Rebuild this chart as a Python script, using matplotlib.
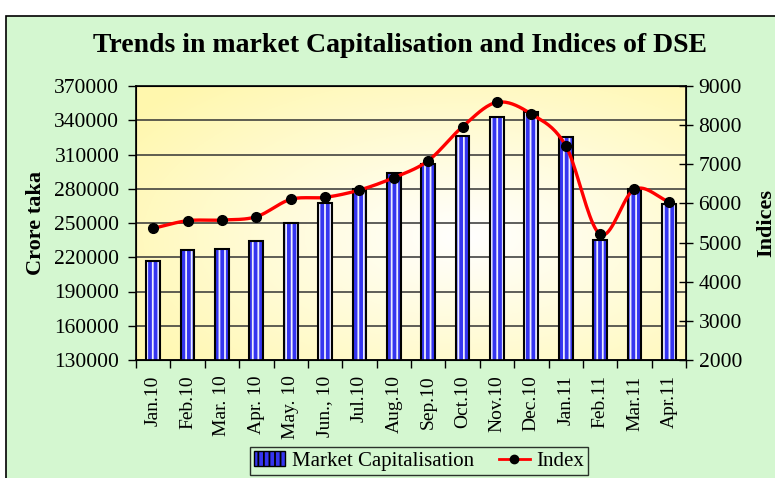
import numpy as np
import matplotlib
matplotlib.use("Agg")
import matplotlib.pyplot as plt
from matplotlib.patches import Rectangle
from matplotlib.lines import Line2D
from matplotlib.patches import Patch

months = ["Jan.10", "Feb.10", "Mar. 10", "Apr. 10", "May. 10", "Jun., 10", "Jul.10", "Aug.10",
          "Sep.10", "Oct.10", "Nov.10", "Dec.10", "Jan.11", "Feb.11", "Mar.11", "Apr.11"]
market_cap = [217000, 226300, 227500, 234500, 249800, 267200, 279500, 293500,
              301700, 326200, 342600, 346900, 325600, 234800, 279500, 266900]
index_vals = [5364, 5559, 5576, 5661, 6104, 6155, 6343, 6658,
              7092, 7961, 8583, 8285, 7475, 5210, 6360, 6044]

plt.rcParams['font.family'] = ['Liberation Serif', 'DejaVu Serif']

fig = plt.figure(figsize=(7.75, 4.78), dpi=100)
fig.patch.set_facecolor('white')
fig.patches.append(Rectangle((6/775, -0.01), 1.0, 1 - 16/478 + 0.01, transform=fig.transFigure,
                             facecolor='#d4f7d0', edgecolor='black', linewidth=1.2, zorder=0))

ax = fig.add_axes([136/775, 1 - 360/478, 550/775, 274/478])
ax.set_zorder(1)

# gradient background
yy, xx = np.mgrid[0:1:200j, 0:1:300j]
d = np.sqrt(((xx - 0.6) / 0.75) ** 2 + ((yy - 0.45) / 0.75) ** 2)
d = np.clip(d, 0, 1)
c0 = np.array([1.0, 1.0, 1.0])
c1 = np.array([1.0, 0.97, 0.68])
img = c0[None, None, :] * (1 - d[..., None]) + c1[None, None, :] * d[..., None]
ax.imshow(img, extent=[0, 1, 0, 1], transform=ax.transAxes, aspect='auto', zorder=0, origin='lower')

x = np.arange(len(months))
ax.set_xlim(-0.5, len(months) - 0.5)
ax.set_yticks(np.arange(130000, 370001, 30000))
ax.yaxis.grid(True, color='#333333', linewidth=1.1, zorder=1)
ax.set_axisbelow(True)

plt.rcParams['hatch.linewidth'] = 1.3
ax.bar(x, market_cap, width=0.4, color='#3535f0', edgecolor='#ececff', hatch='|||',
       linewidth=0, zorder=2)
ax.bar(x, market_cap, width=0.4, fill=False, edgecolor='black', linewidth=1.5, zorder=3)
ax.set_ylim(130000, 370000)

ax.set_xticks(x)
ax.set_xticklabels(months, rotation=90, fontsize=14)
ax.set_xticks(np.arange(-0.5, len(months), 1), minor=True)
ax.tick_params(axis='x', which='major', length=0, pad=11)
ax.tick_params(axis='x', which='minor', length=6, width=1, direction='out')
ax.tick_params(axis='y', labelsize=15.5, length=6, width=1, direction='out', pad=6)
for s in ax.spines.values():
    s.set_linewidth(1.2)
ax.set_ylabel('Crore taka', fontsize=16, fontweight='bold', labelpad=6)

ax2 = ax.twinx()
ax2.set_ylim(2000, 9000)
ax2.set_yticks(np.arange(2000, 9001, 1000))
ax2.tick_params(axis='y', labelsize=15.5, length=10, width=1, direction='inout', pad=4)
ax2.set_ylabel('Indices', fontsize=16, fontweight='bold', labelpad=10)

# smooth (Catmull-Rom) rendering of the index line
def catmull(xs, ys, n=20):
    xs = np.asarray(xs, float); ys = np.asarray(ys, float)
    px = np.concatenate([[2 * xs[0] - xs[1]], xs, [2 * xs[-1] - xs[-2]]])
    py = np.concatenate([[2 * ys[0] - ys[1]], ys, [2 * ys[-1] - ys[-2]]])
    ox, oy = [], []
    t = np.linspace(0, 1, n, endpoint=False)
    for i in range(1, len(px) - 2):
        for arr, out in ((px, ox), (py, oy)):
            p0, p1, p2, p3 = arr[i - 1], arr[i], arr[i + 1], arr[i + 2]
            out.extend(0.5 * ((2 * p1) + (-p0 + p2) * t + (2 * p0 - 5 * p1 + 4 * p2 - p3) * t ** 2
                              + (-p0 + 3 * p1 - 3 * p2 + p3) * t ** 3))
    ox.append(xs[-1]); oy.append(ys[-1])
    return np.array(ox), np.array(oy)

sx, sy = catmull(x, index_vals)
ax2.plot(sx, sy, color='#ff0000', linewidth=2.4, zorder=4)
ax2.plot(x, index_vals, 'o', color='black', markersize=7, zorder=5)

fig.text(400/775, 1 - 45/478, 'Trends in market Capitalisation and Indices of DSE',
         ha='center', va='center', fontsize=20, fontweight='bold')

handles = [Patch(facecolor='#3535f0', edgecolor='black', hatch='|||', linewidth=1),
           Line2D([0], [0], color='#ff0000', linewidth=2, marker='o', markersize=6,
                  markerfacecolor='black', markeredgecolor='black')]
leg = fig.legend(handles, ['Market Capitalisation', 'Index'], loc='center',
                 bbox_to_anchor=(419/775, 1 - 461/478), ncol=2, fontsize=15,
                 frameon=True, fancybox=False, edgecolor='black', facecolor='#d4f7d0',
                 handlelength=1.5, columnspacing=1.2, borderpad=0.2, handletextpad=0.3)
leg.get_frame().set_linewidth(1.0)

fig.savefig('out.png', dpi=100, facecolor=fig.get_facecolor())
